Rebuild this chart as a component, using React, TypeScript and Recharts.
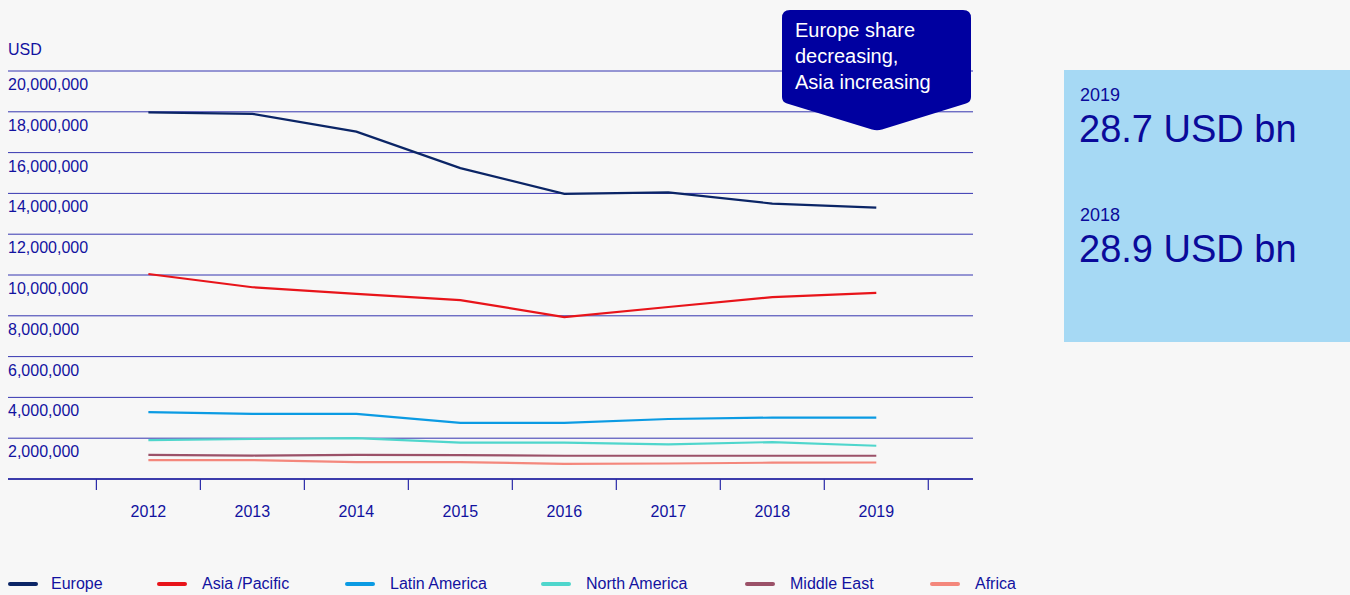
import React from "react";
import { LineChart, Line, XAxis, YAxis, CartesianGrid } from "recharts";

const years = [2012, 2013, 2014, 2015, 2016, 2017, 2018, 2019];
const europe = [17970000, 17900000, 17030000, 15240000, 13980000, 14050000, 13500000, 13300000];
const asiaPacific = [10050000, 9400000, 9070000, 8770000, 7940000, 8430000, 8920000, 9120000];
const latinAmerica = [3280000, 3190000, 3190000, 2750000, 2750000, 2940000, 3010000, 3010000];
const northAmerica = [1910000, 1960000, 2000000, 1780000, 1780000, 1700000, 1810000, 1630000];
const middleEast = [1180000, 1150000, 1180000, 1170000, 1140000, 1140000, 1140000, 1140000];
const africa = [930000, 930000, 830000, 830000, 740000, 760000, 800000, 810000];

const yTicks = [0, 2000000, 4000000, 6000000, 8000000, 10000000, 12000000, 14000000, 16000000, 18000000, 20000000];
const xTicks = [2011.5, 2012, 2012.5, 2013, 2013.5, 2014, 2014.5, 2015, 2015.5, 2016, 2016.5, 2017, 2017.5, 2018, 2018.5, 2019, 2019.5];

const series = [
  { key: "europe", name: "Europe", color: "#0b2566", values: europe },
  { key: "asia", name: "Asia /Pacific", color: "#e8141a", values: asiaPacific },
  { key: "latin", name: "Latin America", color: "#0b9be3", values: latinAmerica },
  { key: "na", name: "North America", color: "#4fd6cc", values: northAmerica },
  { key: "me", name: "Middle East", color: "#9b5168", values: middleEast },
  { key: "africa", name: "Africa", color: "#f4877c", values: africa },
];

// legend layout (pixel lefts of each legend swatch)
const legendLefts = [8, 157, 345, 541, 745, 930];

const data = years.map((y, i) => {
  const row: any = { year: y };
  series.forEach((s) => (row[s.key] = s.values[i]));
  return row;
});

const TEXT = "#1212a0";
const FONT = "'Liberation Sans', Arial, sans-serif";

const YTick = (props: any) => {
  const { y, payload } = props;
  if (payload.value === 0) return null;
  return (
    <text x={8} y={y + 19} textAnchor="start" fill={TEXT} fontSize={16} fontFamily={FONT}>
      {payload.value.toLocaleString("en-US")}
    </text>
  );
};

const XTick = (props: any) => {
  const { x, y, payload } = props;
  const v = payload.value;
  if (!Number.isInteger(v)) {
    return <line x1={x} x2={x} y1={y - 8} y2={y + 3} stroke="#2a2aa8" strokeWidth={1.2} />;
  }
  return (
    <text x={x} y={y + 30} textAnchor="middle" fill={TEXT} fontSize={16} fontFamily={FONT}>
      {v}
    </text>
  );
};

export default function App() {
  return (
    <div
      style={{
        position: "absolute",
        left: 0,
        top: 0,
        width: 1350,
        height: 595,
        background: "#f7f7f7",
        fontFamily: FONT,
        overflow: "hidden",
      }}
    >
      <div style={{ position: "absolute", left: 8, top: 41, fontSize: 16, color: TEXT }}>USD</div>
      <div style={{ position: "absolute", left: 0, top: 0 }}>
        <LineChart width={980} height={540} data={data} margin={{ top: 71, left: 7, right: 7, bottom: 0 }}>
          <CartesianGrid horizontal vertical={false} stroke="#3535b0" strokeWidth={1} />
          <XAxis
            dataKey="year"
            type="number"
            domain={[2010.65, 2019.93]}
            allowDataOverflow
            ticks={xTicks}
            interval={0}
            tick={<XTick />}
            tickLine={false}
            axisLine={{ stroke: "#1e1e9e", strokeWidth: 1.5 }}
            height={61}
          />
          <YAxis
            type="number"
            domain={[0, 20000000]}
            ticks={yTicks}
            interval={0}
            width={1}
            axisLine={false}
            tickLine={false}
            tick={<YTick />}
          />
          {series.map((s) => (
            <Line
              key={s.key}
              dataKey={s.key}
              name={s.name}
              stroke={s.color}
              strokeWidth={2.2}
              dot={false}
              activeDot={false}
              type="linear"
              isAnimationActive={false}
            />
          ))}
        </LineChart>
      </div>

      {/* Callout */}
      <svg style={{ position: "absolute", left: 782, top: 10 }} width={190} height={123}>
        <path
          d="M 8 0 H 181 Q 189 0 189 8 V 87 Q 189 92 184 93.5 L 100 119.5 Q 95 121 90 119.5 L 5 93.5 Q 0 92 0 87 V 8 Q 0 0 8 0 Z"
          fill="#0000a0"
        />
      </svg>
      <div
        style={{
          position: "absolute",
          left: 795,
          top: 17,
          color: "#ffffff",
          fontSize: 20,
          lineHeight: "26px",
        }}
      >
        Europe share
        <br />
        decreasing,
        <br />
        Asia increasing
      </div>

      {/* Right panel */}
      <div
        style={{
          position: "absolute",
          left: 1064,
          top: 70,
          width: 286,
          height: 272,
          background: "#a6d9f4",
          color: "#0a0a9a",
        }}
      >
        <div style={{ position: "absolute", left: 16, top: 15, fontSize: 18 }}>2019</div>
        <div style={{ position: "absolute", left: 15, top: 38, fontSize: 38 }}>28.7 USD bn</div>
        <div style={{ position: "absolute", left: 16, top: 135, fontSize: 18 }}>2018</div>
        <div style={{ position: "absolute", left: 15, top: 158, fontSize: 38 }}>28.9 USD bn</div>
      </div>

      {/* Legend */}
      {series.map((s, i) => (
        <div
          key={s.key}
          style={{
            position: "absolute",
            left: legendLefts[i],
            top: 574,
            display: "flex",
            alignItems: "center",
            fontSize: 16,
            color: TEXT,
            whiteSpace: "nowrap",
          }}
        >
          <div
            style={{ width: 30, height: 3.5, borderRadius: 2, background: s.color, marginRight: i === 0 ? 13 : 15 }}
          />
          <span style={{ lineHeight: "20px" }}>{s.name}</span>
        </div>
      ))}
    </div>
  );
}
